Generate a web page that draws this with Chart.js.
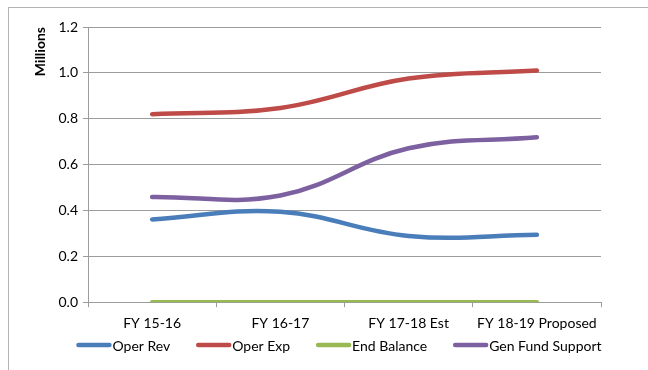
<!DOCTYPE html>
<html>
<head>
<meta charset="utf-8">
<script src="https://cdn.jsdelivr.net/npm/chart.js@4/dist/chart.umd.min.js"></script>
<style>
  html, body { margin: 0; padding: 0; background: #fff; }
  #wrap { position: relative; width: 648px; height: 370px; overflow: hidden; }
  #frame { position: absolute; left: 8px; top: 7px; width: 700px; height: 400px; border: 1px solid #b4b4b4; }
  #c { position: absolute; left: 0; top: 0; }
</style>
</head>
<body>
<div id="wrap">
  <div id="frame"></div>
  <canvas id="c" width="648" height="370"></canvas>
</div>
<script>
// Fiscal years on the category axis
const categories = ['FY 15-16', 'FY 16-17', 'FY 17-18 Est', 'FY 18-19 Proposed'];

// Amounts in millions
const operRev        = [0.361, 0.394, 0.289, 0.294];
const operExp        = [0.820, 0.847, 0.975, 1.010];
const endBalance     = [0, 0, 0, 0];
const genFundSupport = [0.459, 0.465, 0.671, 0.719];

const yTicks = [0, 0.2, 0.4, 0.6, 0.8, 1.0, 1.2];

const FONT = 'Lato, "Liberation Sans", sans-serif';
const FONT_SIZE = 14;
const AXIS_GREY = '#9c9c9c';

function series(label, data, color) {
  return {
    label, data,
    borderColor: color,
    backgroundColor: color,
    borderWidth: 4.5,
    borderCapStyle: 'round',
    tension: 0.4,
    pointRadius: 0,
    pointHoverRadius: 0,
    fill: false
  };
}

// One-row legend under the axis: a short thick line, then the series name
const lineLegend = {
  id: 'lineLegend',
  afterDraw(chart) {
    const ctx = chart.ctx;
    const y = 345, sample = 35, textGap = 1, itemGap = 26;
    ctx.save();
    ctx.font = FONT_SIZE + 'px ' + FONT;
    const items = chart.data.datasets.map(ds => ({
      label: ds.label, color: ds.borderColor, w: ctx.measureText(ds.label).width
    }));
    const total = items.reduce((a, it) => a + sample + textGap + it.w, 0) + itemGap * (items.length - 1);
    let x = 339 - total / 2;
    ctx.textBaseline = 'middle';
    ctx.textAlign = 'left';
    ctx.lineCap = 'round';
    ctx.lineWidth = 4.5;
    for (const it of items) {
      ctx.strokeStyle = it.color;
      ctx.beginPath();
      ctx.moveTo(x + 2, y);
      ctx.lineTo(x + sample - 2, y);
      ctx.stroke();
      ctx.fillStyle = '#000';
      ctx.fillText(it.label, x + sample + textGap, y + 1);
      x += sample + textGap + it.w + itemGap;
    }
    ctx.restore();
  }
};

new Chart(document.getElementById('c'), {
  type: 'line',
  data: {
    labels: categories,
    datasets: [
      series('Oper Rev', operRev, '#4a7ebb'),
      series('Oper Exp', operExp, '#be4b48'),
      series('End Balance', endBalance, '#98b954'),
      series('Gen Fund Support', genFundSupport, '#7d60a0')
    ]
  },
  plugins: [lineLegend],
  options: {
    responsive: false,
    animation: false,
    layout: { padding: { top: 27, right: 47, left: 32, bottom: 30 } },
    plugins: {
      legend: { display: false },
      tooltip: { enabled: false }
    },
    scales: {
      x: {
        offset: true,
        border: { color: AXIS_GREY, width: 1 },
        grid: { offset: true, drawOnChartArea: false, tickLength: 5, color: AXIS_GREY },
        ticks: { color: '#000', font: { family: FONT, size: FONT_SIZE }, maxRotation: 0, padding: 8 }
      },
      y: {
        min: 0, max: 1.2,
        afterBuildTicks: (s) => { s.ticks = yTicks.map(v => ({ value: v })); },
        afterFit: (s) => { s.width = 56; },
        border: { color: AXIS_GREY, width: 1 },
        grid: { color: AXIS_GREY, tickLength: 5 },
        ticks: {
          color: '#000',
          font: { family: FONT, size: FONT_SIZE },
          padding: 5,
          callback: (v) => Number(v).toFixed(1)
        },
        title: {
          display: true,
          text: 'Millions',
          align: 'end',
          color: '#000',
          font: { family: FONT, size: FONT_SIZE, weight: 'bold' },
          padding: { top: 0, bottom: 4 }
        }
      }
    }
  }
});
</script>
</body>
</html>
